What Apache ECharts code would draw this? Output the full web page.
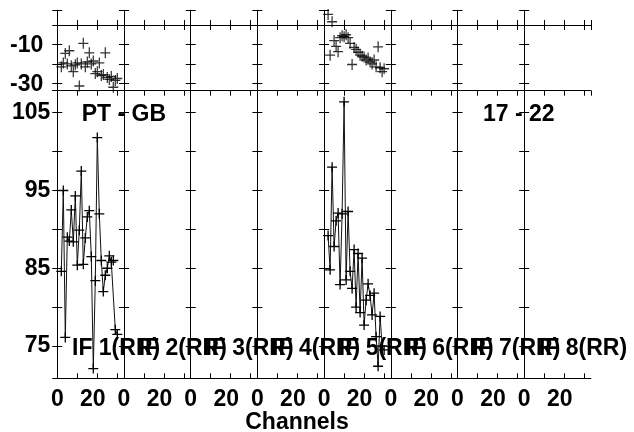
<!DOCTYPE html>
<html><head><meta charset="utf-8">
<script src="https://cdn.jsdelivr.net/npm/echarts@6/dist/echarts.min.js"></script>
<style>html,body{margin:0;padding:0;background:#fff}#c{width:634px;height:432px}</style>
</head><body><div id="c"></div>
<script>
// ---- data ----
const channels = [2,3,4,5,6,7,8,9,10,11,12,13,14,15,16,17,18,19,20,21,22,23,24,25,26,27,28,29,30];
const ifLabels = ['IF 1(RR)','IF 2(RR)','IF 3(RR)','IF 4(RR)','IF 5(RR)','IF 6(RR)','IF 7(RR)','IF 8(RR)'];
const if1Amp = [84.6,95.0,76.1,89.0,88.5,92.5,88.4,94.3,85.4,89.9,97.5,85.5,88.9,91.6,92.4,86.5,72.1,83.4,101.8,92.0,86.0,82.0,84.1,85.0,86.6,85.8,86.0,77.1,76.5];
const if1Phase = [-21.5,-19.5,-14.6,-20.0,-13.2,-21.0,-24.0,-20.5,-19.5,-31.4,-20.0,-9.4,-21.5,-19.0,-14.3,-20.0,-18.5,-25.0,-24.0,-19.5,-26.0,-25.5,-14.3,-27.0,-28.0,-26.5,-32.0,-28.5,-27.5];
const if5Amp = [89.2,84.8,98.0,87.8,91.1,92.1,82.9,92.0,106.4,83.5,92.3,84.6,82.4,87.4,80.0,86.9,79.3,86.3,77.7,80.9,83.0,81.5,79.0,81.8,76.2,72.4,78.8,75.0,74.5];
const if5Phase = [5.5,-15.5,1.7,-8.0,-11.0,-13.7,-6.5,-5.5,-6.0,-5.0,-6.5,-9.4,-20.3,-11.5,-12.5,-14.0,-15.5,-16.0,-16.5,-18.0,-17.0,-19.0,-20.0,-18.0,-21.5,-11.2,-22.0,-24.0,-22.5];
const ampByIF = [if1Amp, [], [], [], if5Amp, [], [], []];
const phaseByIF = [if1Phase, [], [], [], if5Phase, [], [], []];
const xTickLabels = [0, 20];
const phaseTickLabels = [-10, -30];
const ampTickLabels = [105, 95, 85, 75];
const sourceLabel = 'PT - GB';
const timeLabel = '17 - 22';
const xAxisName = 'Channels';

// ---- layout ----
const FONT = 'Liberation Sans';
const FS = 23;
const L0 = 57.3, PW = 66.7, T1 = 10.3, H1 = 80.4, T2 = 90.7, H2 = 287.6;
const X_MIN = 0, X_MAX = 33.35;
const PH_MIN = -33.8, PH_MAX = 7.6;
const AMP_MIN = 70.85, AMP_MAX = 107.83;
const CROSS = 'path://M0,5L10,5M5,0L5,10';

const grid = [], xAxis = [], yAxis = [], series = [];
const lineCol = '#000';
function isNear(v, arr) { return arr.some(a => Math.abs(v - a) < 1e-6); }

for (let i = 0; i < 8; i++) {
  for (let row = 0; row < 2; row++) {
    const g = grid.length;
    const isAmp = row === 1;
    grid.push({left: L0 + i * PW, top: isAmp ? T2 : T1, width: PW, height: isAmp ? H2 : H1, containLabel: false});
    const xb = xAxis.length;
    const tick = {show: true, inside: true, length: 5, lineStyle: {color: lineCol, width: 1}};
    const aline = {show: true, lineStyle: {color: lineCol, width: 1}};
    xAxis.push({
      gridIndex: g, type: 'value', min: X_MIN, max: X_MAX, interval: 10, position: 'bottom',
      axisLine: aline, axisTick: tick, splitLine: {show: false},
      axisLabel: isAmp ? {
        show: true, margin: 10, color: '#000', fontFamily: FONT, fontWeight: 'bold', fontSize: FS,
        showMaxLabel: false,
        formatter: v => (Math.abs(v) < 1e-6 && isNear(0, xTickLabels)) ? '{a|0}' : (Math.abs(v - 20) < 1e-6 && isNear(20, xTickLabels)) ? '{b|20}' : '',
        rich: {
          a: {fontFamily: FONT, fontWeight: 'bold', fontSize: FS, color: '#000'},
          b: {fontFamily: FONT, fontWeight: 'bold', fontSize: FS, color: '#000', padding: [0, 9, 0, 0]}
        }
      } : {show: false}
    });
    xAxis.push({
      gridIndex: g, type: 'value', min: X_MIN, max: X_MAX, interval: 10, position: 'top',
      axisLine: aline, axisTick: tick, splitLine: {show: false}, axisLabel: {show: false}
    });
    const yl = yAxis.length;
    const ymin = isAmp ? AMP_MIN : PH_MIN, ymax = isAmp ? AMP_MAX : PH_MAX;
    const step = isAmp ? 5 : 10;
    const labs = isAmp ? ampTickLabels : phaseTickLabels;
    yAxis.push({
      gridIndex: g, type: 'value', min: ymin, max: ymax, minInterval: step, maxInterval: step, position: 'left',
      axisLine: aline, axisTick: tick, splitLine: {show: false},
      axisLabel: i === 0 ? {
        show: true, margin: isAmp ? 7 : 14, color: '#000', fontFamily: FONT, fontWeight: 'bold', fontSize: FS,
        formatter: v => isNear(v, labs) ? (isAmp ? String(Math.round(v)) : '{p|' + Math.round(v) + '}') : '',
        rich: {p: {fontFamily: FONT, fontWeight: 'bold', fontSize: FS, color: '#000', padding: [3, 0, 0, 0]}}
      } : {show: false}
    });
    yAxis.push({
      gridIndex: g, type: 'value', min: ymin, max: ymax, minInterval: step, maxInterval: step, position: 'right',
      axisLine: aline, axisTick: tick, splitLine: {show: false}, axisLabel: {show: false}
    });
    const vals = isAmp ? ampByIF[i] : phaseByIF[i];
    const data = vals.map((v, k) => [channels[k], v]);
    if (isAmp) {
      series.push({
        type: 'line', xAxisIndex: xb, yAxisIndex: yl, data: data,
        symbol: CROSS, symbolSize: [10, 10], showSymbol: true,
        itemStyle: {color: 'rgba(0,0,0,0)', borderColor: '#000', borderWidth: 1.3},
        lineStyle: {color: '#111', width: 1}, silent: true
      });
    } else {
      series.push({
        type: 'scatter', xAxisIndex: xb, yAxisIndex: yl, data: data,
        symbol: CROSS, symbolSize: [10, 11],
        itemStyle: {color: 'rgba(0,0,0,0)', borderColor: '#000', borderWidth: 1.3}, silent: true,
        markLine: {silent: true, symbol: 'none', label: {show: false}, animation: false,
          lineStyle: {color: '#000', width: 1, type: 'solid'}, data: [{yAxis: 0}]}
      });
    }
  }
}

const txt = (text, x, y, align) => ({
  type: 'text', x: x, y: y, silent: true,
  style: {text: text, fill: '#000', font: 'bold ' + FS + 'px "' + FONT + '"', textAlign: align || 'left', textVerticalAlign: 'middle'}
});
const graphic = [txt(sourceLabel, 81.7, 115), txt(timeLabel, 483, 115), txt(xAxisName, 297, 423, 'center')];
ifLabels.forEach((s, i) => graphic.push(txt(s, 72 + i * PW, 349)));

const chart = echarts.init(document.getElementById('c'), null, {renderer: 'canvas'});
chart.setOption({animation: false, backgroundColor: '#fff', grid, xAxis, yAxis, series, graphic});
</script>
</body></html>
